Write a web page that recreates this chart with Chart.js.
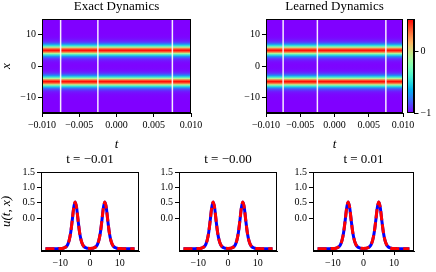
<!DOCTYPE html>
<html>
<head>
<meta charset="utf-8">
<script src="https://cdn.jsdelivr.net/npm/chart.js@4.4.1/dist/chart.umd.min.js"></script>
<style>
  html, body { margin: 0; padding: 0; background: #fff; }
  #fig { position: relative; width: 436px; height: 272px; }
  #fig canvas { position: absolute; left: 0; top: 0; }
</style>
</head>
<body>
<div id="fig">
  <canvas id="hmExact" width="436" height="272"></canvas>
  <canvas id="hmLearned" width="436" height="272"></canvas>
  <canvas id="cbar" width="436" height="272"></canvas>
  <canvas id="slice0" width="436" height="272"></canvas>
  <canvas id="slice1" width="436" height="272"></canvas>
  <canvas id="slice2" width="436" height="272"></canvas>
</div>
<script>
// spatial grid x and the solution u(t, x)
const xGrid = [-15, -14.5, -14, -13.5, -13, -12.5, -12, -11.5, -11, -10.5, -10, -9.5, -9, -8.5, -8, -7.5,
  -7, -6.5, -6, -5.5, -5, -4.5, -4, -3.5, -3, -2.5, -2, -1.5, -1, -0.5, 0,
  0.5, 1, 1.5, 2, 2.5, 3, 3.5, 4, 4.5, 5, 5.5, 6, 6.5, 7, 7.5,
  8, 8.5, 9, 9.5, 10, 10.5, 11, 11.5, 12, 12.5, 13, 13.5, 14, 14.5, 15];
const uExact = [-1.000, -1.000, -1.000, -1.000, -1.000, -1.000, -1.000, -1.000, -0.999, -0.998, -0.997, -0.993, -0.985, -0.968, -0.934, -0.864,
  -0.725, -0.476, -0.093, 0.325, 0.520, 0.325, -0.093, -0.476, -0.725, -0.864, -0.934, -0.968, -0.985, -0.991, -0.993,
  -0.991, -0.985, -0.968, -0.934, -0.864, -0.725, -0.476, -0.093, 0.325, 0.520, 0.325, -0.093, -0.476, -0.725, -0.864,
  -0.934, -0.968, -0.985, -0.993, -0.997, -0.998, -0.999, -1.000, -1.000, -1.000, -1.000, -1.000, -1.000, -1.000, -1.000];
const uLearned = [-1.000, -1.000, -1.000, -1.000, -1.000, -1.000, -1.000, -1.000, -0.999, -0.998, -0.996, -0.992, -0.984, -0.967, -0.932, -0.861,
  -0.722, -0.471, -0.090, 0.322, 0.518, 0.326, -0.090, -0.474, -0.722, -0.862, -0.933, -0.967, -0.984, -0.990, -0.992,
  -0.990, -0.984, -0.967, -0.933, -0.862, -0.722, -0.474, -0.090, 0.326, 0.518, 0.322, -0.090, -0.471, -0.722, -0.861,
  -0.932, -0.967, -0.984, -0.992, -0.996, -0.998, -0.999, -1.000, -1.000, -1.000, -1.000, -1.000, -1.000, -1.000, -1.000];

// time slices marked on the heat maps, and the titles of the slice panels
const sliceTimes = [-0.0075, -0.0025, 0.0075];
const sliceTitles = ['t = \u22120.01', 't = \u22120.00', 't = 0.01'];

// tick labels
const tTicks = [-0.01, -0.005, 0, 0.005, 0.01];
const xTicks = [-10, 0, 10];
const xSliceTicks = [-10, 0, 10];
const uTicks = [0, 0.5, 1, 1.5];
const cbarTicks = [-1, 0];

const tRange = [-0.01, 0.01];
const xRange = [-15, 15];
const vMin = -1, vMax = 0.53;

const FONT = "'Liberation Serif', 'DejaVu Serif', serif";
Chart.defaults.font.family = FONT;
Chart.defaults.color = '#000';
Chart.defaults.animation = false;
Chart.defaults.responsive = false;
Chart.defaults.plugins.legend.display = false;
Chart.defaults.plugins.tooltip.enabled = false;

// matplotlib "rainbow"
function rainbow(u) {
  let s = (u - vMin) / (vMax - vMin);
  s = Math.min(1, Math.max(0, s));
  const r = Math.min(1, Math.abs(2 * s - 0.5));
  const g = Math.sin(Math.PI * s);
  const b = Math.cos(Math.PI * s / 2);
  return 'rgb(' + Math.round(r * 255) + ',' + Math.round(g * 255) + ',' + Math.round(b * 255) + ')';
}

const minus = s => String(s).replace('-', '\u2212');

function axis(o) {
  return {
    type: 'linear', min: o.min, max: o.max, position: o.position,
    afterBuildTicks: s => { s.ticks = o.ticks.map(v => ({ value: v })); },
    afterFit: s => { if (s.isHorizontal()) s.height = o.size; else s.width = o.size; },
    grid: { drawOnChartArea: false, drawTicks: true, tickLength: 4, color: '#000', tickWidth: 1 },
    border: { display: true, color: '#000', width: 1 },
    ticks: { font: { size: 10 }, padding: 2, maxRotation: 0, autoSkip: false, callback: v => minus(o.fmt(v)) },
    title: o.title ? { display: true, text: o.title, font: { size: 13, style: 'italic', lineHeight: 1 }, padding: 0 } : { display: false }
  };
}

function title(text, padBottom) {
  return { display: true, text: text, fullSize: false, color: '#000',
    font: { size: 13, weight: 'normal', lineHeight: 1 }, padding: { top: 0, bottom: padBottom } };
}

// black box round every axes
const framePlugin = {
  id: 'frame',
  afterDraw(chart) {
    const { ctx, chartArea: a } = chart;
    ctx.save();
    ctx.strokeStyle = '#000';
    ctx.lineWidth = 1;
    ctx.strokeRect(Math.round(a.left) + 0.5, Math.round(a.top) + 0.5,
      Math.round(a.right - a.left) - 1, Math.round(a.bottom - a.top) - 1);
    ctx.restore();
  }
};

// u(t, x) is the same at every t, so each heat map is a gradient along x
const heatPlugin = {
  id: 'heat',
  beforeDatasetsDraw(chart, args, opts) {
    const { ctx, chartArea: a, scales: { x, y } } = chart;
    const y0 = y.getPixelForValue(xGrid[0]);
    const y1 = y.getPixelForValue(xGrid[xGrid.length - 1]);
    const g = ctx.createLinearGradient(0, y0, 0, y1);
    const span = xGrid[xGrid.length - 1] - xGrid[0];
    opts.values.forEach((u, i) => g.addColorStop((xGrid[i] - xGrid[0]) / span, rainbow(u)));
    const xl = x.getPixelForValue(tRange[0]), xr = x.getPixelForValue(tRange[1]);
    ctx.save();
    ctx.beginPath();
    ctx.rect(a.left, a.top, a.right - a.left, a.bottom - a.top);
    ctx.clip();
    ctx.fillStyle = g;
    ctx.fillRect(xl, Math.min(y0, y1), xr - xl, Math.abs(y1 - y0));
    ctx.restore();
  }
};

const cbarPlugin = {
  id: 'cbarFill',
  beforeDatasetsDraw(chart) {
    const { ctx, chartArea: a, scales: { y } } = chart;
    const yb = y.getPixelForValue(vMin), yt = y.getPixelForValue(vMax);
    const g = ctx.createLinearGradient(0, yb, 0, yt);
    for (let k = 0; k <= 20; k++) g.addColorStop(k / 20, rainbow(vMin + (vMax - vMin) * k / 20));
    ctx.save();
    ctx.fillStyle = g;
    ctx.fillRect(a.left, yt, a.right - a.left, yb - yt);
    ctx.restore();
  }
};

function sliceLines() {
  return sliceTimes.map(t => ({
    data: [{ x: t, y: xRange[0] }, { x: t, y: xRange[1] }],
    showLine: true, borderColor: 'rgba(255,255,255,0.92)', borderWidth: 1.5, pointRadius: 0
  }));
}

function heatmap(id, text, values, pad, yWidth, yTitle) {
  new Chart(document.getElementById(id), {
    type: 'scatter',
    data: { datasets: sliceLines() },
    options: {
      layout: { padding: pad },
      scales: {
        x: axis({ min: tRange[0], max: tRange[1], ticks: tTicks, size: 38, title: 't', position: 'bottom', fmt: v => v.toFixed(3) }),
        y: axis({ min: xRange[0], max: xRange[1], ticks: xTicks, size: yWidth, title: yTitle, position: 'left', fmt: v => v.toFixed(0) })
      },
      plugins: { title: title(text, 6), heat: { values: values } }
    },
    plugins: [heatPlugin, framePlugin]
  });
}

heatmap('hmExact', 'Exact Dynamics', uExact, { left: 0, right: 245, top: 0, bottom: 121 }, 42, 'x');
heatmap('hmLearned', 'Learned Dynamics', uLearned, { left: 236, right: 33, top: 0, bottom: 121 }, 30, null);

// colour bar
new Chart(document.getElementById('cbar'), {
  type: 'scatter',
  data: { datasets: [] },
  options: {
    layout: { padding: { left: 407, right: 0, top: 19, bottom: 159 } },
    scales: {
      x: { type: 'linear', display: false, min: 0, max: 1 },
      y: Object.assign(axis({ min: vMin, max: vMax, ticks: cbarTicks, size: 22, position: 'right', fmt: v => v.toFixed(0) }),
        { grid: { drawOnChartArea: false, drawTicks: true, tickLength: 4.5, color: '#000' } })
    }
  },
  plugins: [cbarPlugin, framePlugin]
});

// three time slices
const slicePads = [
  { left: 0, right: 297, top: 153, bottom: 0 },
  { left: 149, right: 159, top: 153, bottom: 0 },
  { left: 283, right: 22, top: 153, bottom: 0 }
];
sliceTitles.forEach((text, i) => {
  new Chart(document.getElementById('slice' + i), {
    type: 'scatter',
    data: {
      datasets: [
        { label: 'Exact', data: xGrid.map((x, k) => ({ x: x, y: uExact[k] })), showLine: true,
          borderColor: '#0000ff', borderWidth: 3, pointRadius: 0, cubicInterpolationMode: 'monotone', order: 2 },
        { label: 'Prediction', data: xGrid.map((x, k) => ({ x: x, y: uLearned[k] })), showLine: true,
          borderColor: '#ff0000', borderWidth: 3, borderDash: [9, 4], pointRadius: 0, cubicInterpolationMode: 'monotone', order: 1 }
      ]
    },
    options: {
      layout: { padding: slicePads[i] },
      scales: {
        x: axis({ min: -16.5, max: 16.5, ticks: xSliceTicks, size: 21, position: 'bottom', fmt: v => v.toFixed(0) }),
        y: axis({ min: -1.076, max: 1.5, ticks: uTicks, size: i === 0 ? 41 : 30, title: i === 0 ? 'u(t, x)' : null,
          position: 'left', fmt: v => v.toFixed(1) })
      },
      plugins: { title: title(text, 6) }
    },
    plugins: [framePlugin]
  });
});
</script>
</body>
</html>
